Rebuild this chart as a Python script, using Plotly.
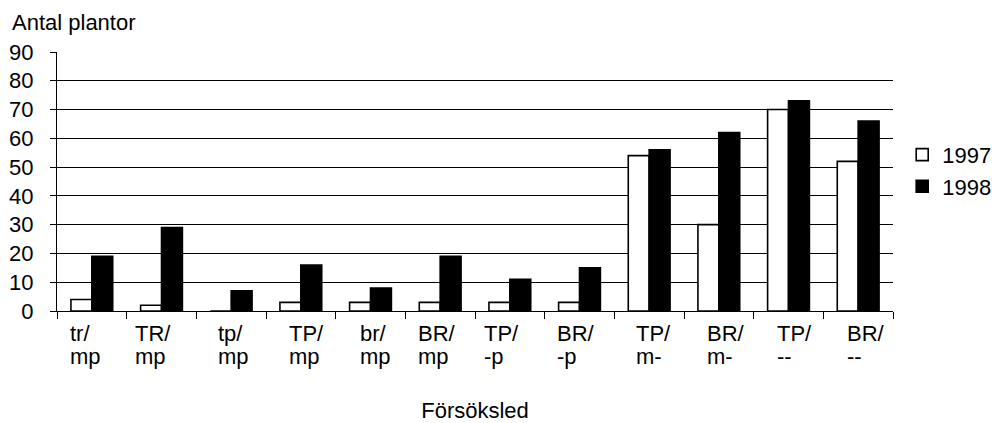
import plotly.graph_objects as go

categories = ["tr/<br>mp", "TR/<br>mp", "tp/<br>mp", "TP/<br>mp", "br/<br>mp", "BR/<br>mp",
              "TP/<br>-p", "BR/<br>-p", "TP/<br>m-", "BR/<br>m-", "TP/<br>--", "BR/<br>--"]
cat_ids = ["c%d" % i for i in range(len(categories))]
values_1997 = [4, 2, 0, 3, 3, 3, 3, 3, 54, 30, 70, 52]
values_1998 = [19, 29, 7, 16, 8, 19, 11, 15, 56, 62, 73, 66]
y_ticks = [0, 10, 20, 30, 40, 50, 60, 70, 80, 90]

# label horizontal offsets (px, relative to category centre) as laid out in the source chart
label_shift = [-24, -29, -15, -14, -13, -24, -28, -25, -15, -14, -14, -13]

FONT = "Liberation Sans, Arial, sans-serif"
FS = 22

fig = go.Figure()
fig.add_trace(go.Bar(x=cat_ids, y=values_1997, name="1997",
                     marker=dict(color="white", line=dict(color="black", width=1.6))))
fig.add_trace(go.Bar(x=cat_ids, y=values_1998, name="1998",
                     marker=dict(color="black", line=dict(color="black", width=1.6))))

annotations = []
for cid, lab, sh in zip(cat_ids, categories, label_shift):
    for li, line in enumerate(lab.split("<br>")):
        annotations.append(dict(x=cid, xref="x", y=0, yref="y", text=line, showarrow=False,
                                xanchor="left", yanchor="middle", align="left",
                                xshift=sh, yshift=-22 - 23 * li,
                                font=dict(family=FONT, size=FS, color="black")))

fig.update_layout(
    width=992, height=423,
    margin=dict(l=57, r=99, t=52, b=112, autoexpand=False),
    paper_bgcolor="white", plot_bgcolor="white",
    font=dict(family=FONT, size=FS, color="black"),
    barmode="group", bargap=0.4, bargroupgap=0,
    title=dict(text="Antal plantor", x=12 / 992, xanchor="left", xref="container",
               y=1 - 22 / 423, yanchor="middle", font=dict(family=FONT, size=FS, color="black")),
    legend=dict(x=1.011, xanchor="left", y=0.684, yanchor="top",
                font=dict(family=FONT, size=FS, color="black"), bgcolor="rgba(0,0,0,0)",
                itemwidth=30, tracegroupgap=0),
    annotations=annotations,
    showlegend=True,
)
fig.update_xaxes(type="category", showticklabels=False, ticks="outside", ticklen=7,
                 tickson="boundaries", tickcolor="black", tickwidth=1,
                 showline=True, linecolor="black", linewidth=1, showgrid=False,
                 title=dict(text="Försöksled", standoff=91, font=dict(family=FONT, size=FS)))
fig.update_yaxes(range=[0, 90], tickvals=y_ticks, ticks="outside", ticklen=6, tickcolor="black",
                 showline=True, linecolor="black", linewidth=1,
                 showgrid=True, gridcolor="black", gridwidth=1, zeroline=False,
                 ticklabelstandoff=12)

fig.write_html("out.html")
